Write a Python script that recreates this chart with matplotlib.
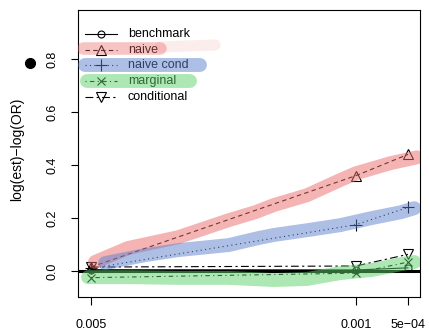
import matplotlib
matplotlib.use("Agg")
import matplotlib.pyplot as plt
from matplotlib.lines import Line2D

plt.rcParams['font.family'] = ['Liberation Sans', 'DejaVu Sans']

# ---- data ----
alpha_labels = ["0.005", "0.001", "5e\u221204"]
x_pos = [0.0, 1.0, 1.196]

benchmark = [0.005, 0.004, 0.012]
naive = [0.015, 0.36, 0.44]
naive_cond = [0.01, 0.175, 0.24]
marginal = [-0.025, -0.008, 0.034]
conditional = [0.015, 0.019, 0.063]

# hand-drawn highlight bands (x in axis position units)
red_band_x = [0.015, 0.14, 0.33, 0.52, 0.62, 0.69, 0.815, 0.94, 1.0, 1.13, 1.23]
red_band_y = [0.034, 0.087, 0.128, 0.192, 0.222, 0.249, 0.286, 0.343, 0.369, 0.407, 0.429]
blue_band_x = [0.053, 0.204, 0.33, 0.52, 0.63, 0.69, 0.815, 0.94, 1.06, 1.17, 1.22]
blue_band_y = [0.030, 0.060, 0.079, 0.098, 0.124, 0.136, 0.154, 0.173, 0.200, 0.222, 0.237]
green_band_x = [-0.011, 0.14, 0.33, 0.52, 0.69, 0.815, 0.94, 1.06, 1.17, 1.22]
green_band_y = [-0.023, -0.023, -0.026, -0.026, -0.034, -0.030, -0.008, 0.004, 0.026, 0.034]

series_names = ["benchmark", "naive", "naive cond", "marginal", "conditional"]

W, H = 429, 330
fig = plt.figure(figsize=(W / 100, H / 100), dpi=100)
ax = fig.add_axes([78 / W, 1 - 297 / H, (420 - 78) / W, (297 - 10) / H])

styles = {
    "benchmark": dict(ls='-', marker='o', ms=5),
    "naive": dict(ls=(0, (4, 3)), marker='^', ms=7),
    "naive cond": dict(ls=(0, (1, 3)), marker='+', ms=9),
    "marginal": dict(ls=(0, (1, 3, 4, 3)), marker='x', ms=6),
    "conditional": dict(ls=(0, (7, 3, 2, 3)), marker='v', ms=7),
}
values = {"benchmark": benchmark, "naive": naive, "naive cond": naive_cond,
          "marginal": marginal, "conditional": conditional}

ax.axhline(0, color='black', lw=2.2, zorder=2)
for name in series_names:
    st = styles[name]
    ax.plot(x_pos, values[name], color='black', lw=0.8, linestyle=st['ls'],
            marker=st['marker'], ms=st['ms'], mfc='none', mec='black', mew=0.8,
            zorder=3)

band_red = (0.92, 0.42, 0.42)
band_blue = (0.37, 0.50, 0.80)
band_green = (0.36, 0.82, 0.41)
for bx, by, c in [(red_band_x, red_band_y, band_red),
                  (blue_band_x, blue_band_y, band_blue),
                  (green_band_x, green_band_y, band_green)]:
    ax.plot(bx, by, color=c, lw=10, alpha=0.5, solid_capstyle='round',
            solid_joinstyle='round', zorder=4)

ax.set_xlim(-0.049, 1.2415)
ax.set_ylim(-0.098, 0.985)
ax.set_xticks(x_pos)
ax.set_xticklabels(alpha_labels, fontsize=9)
ax.set_yticks([0.0, 0.2, 0.4, 0.6, 0.8])
ax.set_yticklabels(["0.0", "0.2", "0.4", "0.6", "0.8"], fontsize=9,
                   rotation=90, va='center')
ax.tick_params(axis='x', length=5.5, width=0.8, pad=10)
ax.tick_params(axis='y', length=5, width=0.8, pad=9)
for sp in ax.spines.values():
    sp.set_linewidth(0.8)

# manual legend
ax_h = 297 - 10
ax_w = 420 - 78
def ax_xy(px, py):
    return (px - 78) / ax_w, (297 - py) / ax_h

for i, name in enumerate(series_names):
    py = 34 + i * 15.7
    x0, y0 = ax_xy(85, py)
    x1, _ = ax_xy(117, py)
    xm, _ = ax_xy(101, py)
    st = styles[name]
    ax.plot([x0, x1], [y0, y0], color='black', lw=0.8, linestyle=st['ls'],
            transform=ax.transAxes, zorder=3, clip_on=False)
    ax.plot([xm], [y0], color='black', marker=st['marker'], ms=st['ms'],
            mfc='none', mec='black', mew=0.8, transform=ax.transAxes, zorder=3)
    tx, _ = ax_xy(128, py)
    ax.text(tx, y0, name, fontsize=9, va='center', ha='left',
            transform=ax.transAxes, zorder=3)

# legend highlights
for (pa, pb, c, lw, al) in [((83, 48), (160, 48), band_red, 9, 0.4),
                            ((160, 47), (215, 45), band_red, 8, 0.12),
                            ((85, 65), (200, 65), band_blue, 10, 0.5),
                            ((87, 81), (190, 81), band_green, 10, 0.5)]:
    xa, ya = ax_xy(*pa)
    xb, yb = ax_xy(*pb)
    ax.plot([xa, xb], [ya, yb], color=c, lw=lw, alpha=al,
            solid_capstyle='round', transform=ax.transAxes, zorder=5)

fig.text(17 / W, 1 - 149 / H, "log(est)\u2212log(OR)", rotation=90,
         ha='center', va='center', fontsize=10)
fig.add_artist(Line2D([30 / W], [1 - 63 / H], marker='o', ms=7, color='black',
                      transform=fig.transFigure))

fig.savefig("out.png", dpi=100)
